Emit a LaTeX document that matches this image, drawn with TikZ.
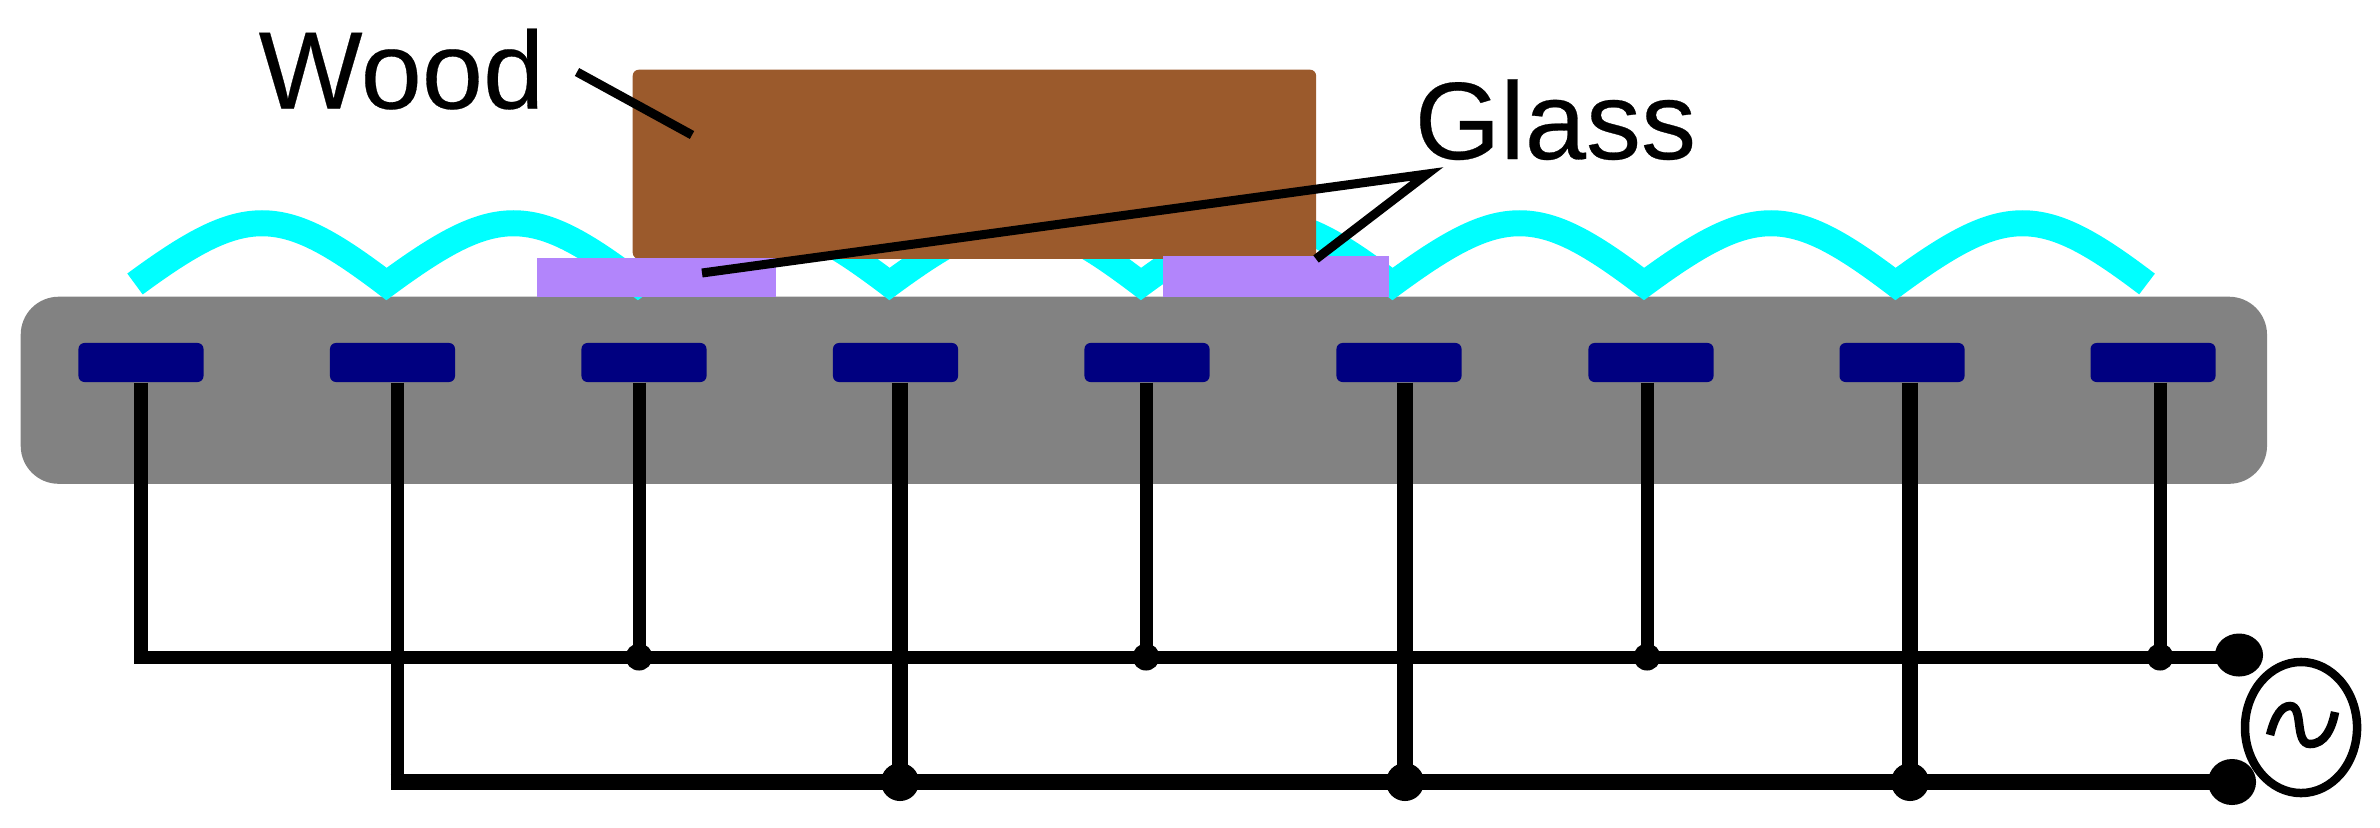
\documentclass[tikz,border=0pt]{standalone}
\usepackage{fontspec}
\setmainfont[FakeBold=0.25]{Liberation Sans}
\usetikzlibrary{shapes.geometric}
\tikzset{
    slab/.style={rectangle, inner sep=0pt, anchor=north west},
    electrode/.style={rectangle, inner sep=0pt, fill=navy, rounded corners=0.06cm, minimum width=1.25cm, minimum height=0.39cm},
    caption/.style={inner sep=0pt, anchor=base west, font=\fontsize{31.3}{36}\selectfont},
    dotsmall/.style={circle, fill=black, inner sep=0pt, minimum size=0.27cm},
    dotbig/.style={circle, fill=black, inner sep=0pt, minimum size=0.38cm},
    terminal/.style={ellipse, fill=black, inner sep=0pt, minimum width=0.48cm, minimum height=0.43cm},
    wire/.style={line width=0.13cm, line join=miter},
    wirethick/.style={line width=0.16cm, line join=miter},
    pointer/.style={line width=0.09cm, line join=miter}
}
\definecolor{navy}{HTML}{000080}
\definecolor{board}{HTML}{828282}
\definecolor{wood}{HTML}{9B5A2C}
\definecolor{glass}{HTML}{B285FB}
\definecolor{wave}{HTML}{00FFFF}
\begin{document}
\begin{tikzpicture}[x=0.01cm, y=-0.01cm]
    \useasboundingbox (0, 0) rectangle (2380, 827);

    \node[slab, fill=board, rounded corners=0.38cm, minimum width=22.45cm, minimum height=1.87cm] (board) at (20, 296) {};

    \draw[wave, line width=0.26cm, line join=miter, miter limit=10] (135, 284)
        \foreach \x in {135, 386.5, 638, 889.5, 1141, 1392.5, 1644, 1895.5} {
            .. controls (\x + 110, 203) and (\x + 145, 203) .. (\x + 251.5, 284)
        };

    \node[slab, fill=wood, rounded corners=0.06cm, minimum width=6.83cm, minimum height=1.89cm] (wood) at (632, 69) {};
    \node[slab, fill=glass, minimum width=2.39cm, minimum height=0.39cm] (glassleft) at (536, 257) {};
    \node[slab, fill=glass, minimum width=2.26cm, minimum height=0.41cm] (glassright) at (1162, 255) {};

    \foreach \i/\x in {1/141, 2/392.5, 3/644, 4/895.5, 5/1147, 6/1399, 7/1651, 8/1902, 9/2153} {
        \node[electrode] (e\i) at (\x, 362.5) {};
    }

    \node[terminal] (t1) at (2239, 655) {};
    \node[terminal, minimum height=0.46cm] (t2) at (2232, 782) {};
    \coordinate (c1) at (141, 657);
    \coordinate (c2) at (397, 782);

    \draw[wire] (c1 |- e1.south) -- (c1) -- (c1 -| t1.center);
    \draw[wire] (c2 |- e2.south) -- (c2);
    \draw[wirethick] ([xshift=-0.065cm]c2) -- (c2 -| t2.center);

    \foreach \i/\x in {3/639, 5/1146, 7/1647, 9/2160} {
        \node[dotsmall] (j\i) at (\x, 657) {};
        \draw[wire] (j\i |- e\i.south) -- (j\i.center);
    }
    \foreach \i/\x in {4/900, 6/1405, 8/1910} {
        \node[dotbig] (j\i) at (\x, 782) {};
        \draw[wirethick] (j\i |- e\i.south) -- (j\i.center);
    }

    \node[ellipse, draw, line width=0.085cm, inner sep=0pt, minimum width=1.12cm, minimum height=1.31cm] (source) at (2301, 727.5) {};
    \draw[line width=0.085cm] (2270, 735) .. controls (2275, 715) and (2282, 706) .. (2290, 706)
        .. controls (2304, 706) and (2294, 744) .. (2310, 744)
        .. controls (2325, 744) and (2332, 728) .. (2335, 712);

    \node[caption] (woodlabel) at (258, 108.5) {Wood};
    \node[caption] (glasslabel) at (1414, 159) {Glass};
    \coordinate (woodstart) at (577, 72);
    \coordinate (woodend) at (692, 135);
    \coordinate (glasstip) at (1427, 174);
    \coordinate (glassa) at (702, 273);
    \coordinate (glassb) at (1316, 259);
    \draw[pointer] (woodstart) -- (woodend);
    \draw[pointer] (glassa) -- (glasstip) -- (glassb);
\end{tikzpicture}
\end{document}
